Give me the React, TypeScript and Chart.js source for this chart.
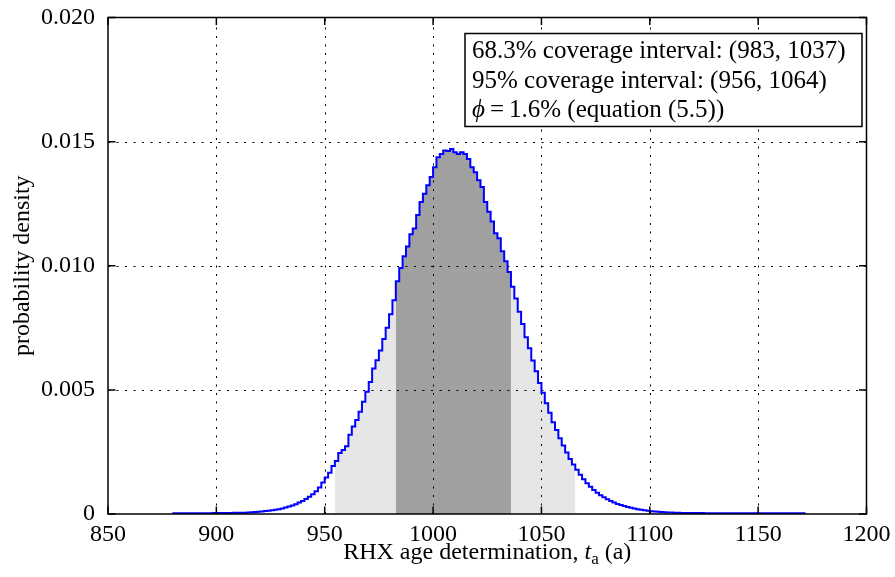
import React, { useEffect, useRef } from 'react';
import { Chart, registerables } from 'chart.js';

Chart.register(...registerables);

// ---- data ----
const xTicks = [850, 900, 950, 1000, 1050, 1100, 1150, 1200];
const yTicks = [0, 0.005, 0.01, 0.015, 0.02];
const yTickLabels = ['0', '0.005', '0.010', '0.015', '0.020'];

// histogram bins: left edge of first bin and bin width (age, a)
const firstBinEdge = 879.6875;
const binWidth = 1.5625;

// probability density per bin (left tail, body, right tail)
const densityLeftTail = [
  0.00003, 0.00003, 0.00003, 0.00003, 0.00003, 0.00003, 0.00003, 0.00003, 0.00003, 0.00003, 0.00003, 0.00003,
  0.00004, 0.00004, 0.00004, 0.00004, 0.00004, 0.00004,
  0.00005, 0.00005, 0.00005, 0.00005,
  0.00006, 0.00007, 0.00008, 0.00009, 0.0001, 0.00012, 0.00013, 0.00015, 0.00017, 0.00019,
  0.00022, 0.00026, 0.0003, 0.00034, 0.00039, 0.00046, 0.00052, 0.0006, 0.00069, 0.0008, 0.00092,
];
const densityBody = [
  0.00107, 0.00127, 0.00147, 0.00166, 0.00193, 0.00213, 0.00246, 0.00258, 0.00273, 0.00319,
  0.00352, 0.00379, 0.00412, 0.00452, 0.00492, 0.00532, 0.00586, 0.00619, 0.00659, 0.00705,
  0.0075, 0.00805, 0.00861, 0.00938, 0.00991, 0.01038, 0.01078, 0.01127, 0.0115, 0.01204,
  0.01257, 0.0129, 0.01324, 0.01357, 0.01397, 0.01437, 0.0145, 0.01464, 0.01462, 0.0147,
  0.01457, 0.0145, 0.01457, 0.0145, 0.0143, 0.01397, 0.01377, 0.01344, 0.01317, 0.01257,
  0.01218, 0.01178, 0.01131, 0.01111, 0.01058, 0.01018,
];
const densityRightTail = [
  0.00975, 0.00915, 0.00868, 0.00815, 0.00765, 0.00712, 0.00668, 0.00618, 0.00575, 0.00528,
  0.00488, 0.00446, 0.00408, 0.0037, 0.00338, 0.00305, 0.00276, 0.00248, 0.00222, 0.00199,
  0.00178, 0.00158, 0.0014, 0.00124, 0.0011, 0.00097, 0.00086, 0.00076, 0.00067, 0.00059,
  0.00052, 0.00046, 0.0004, 0.00036, 0.00032, 0.00028, 0.00025, 0.00022, 0.00019, 0.00017,
  0.00015, 0.00013, 0.00011, 0.0001, 0.00009, 0.00008, 0.00007, 0.00006, 0.00006, 0.00005,
  0.00005,
  0.00004, 0.00004, 0.00004, 0.00004, 0.00004, 0.00004, 0.00004,
  0.00003, 0.00003, 0.00003, 0.00003, 0.00003, 0.00003, 0.00003, 0.00003, 0.00003, 0.00003,
  0.00003, 0.00003, 0.00003, 0.00003, 0.00003, 0.00003, 0.00003, 0.00003, 0.00003, 0.00003,
  0.00003, 0.00003, 0.00003, 0.00003, 0.00003, 0.00003, 0.00003, 0.00003, 0.00003, 0.00003,
];
const density = [...densityLeftTail, ...densityBody, ...densityRightTail];

// shaded coverage regions (bin-aligned, as drawn)
const shade95 = [954.6875, 1065.625];
const shade68 = [982.8125, 1035.9375];

const legendLine1 = '68.3% coverage interval: (983, 1037)';
const legendLine2 = '95% coverage interval: (956, 1064)';
const legendLine3Symbol = '\u03d5';
const legendLine3Rest = '\u2009=\u20091.6% (equation (5.5))';
const yTitle = 'probability density';

const FONT = '"Liberation Serif", "Times New Roman", serif';

function stepPoints(lo?: number, hi?: number) {
  const pts: { x: number; y: number }[] = [];
  for (let i = 0; i < density.length; i++) {
    const x0 = firstBinEdge + i * binWidth;
    const x1 = x0 + binWidth;
    if (lo !== undefined && hi !== undefined && (x0 < lo - 1e-6 || x1 > hi + 1e-6)) continue;
    pts.push({ x: x0, y: density[i] });
  }
  const last = pts[pts.length - 1];
  pts.push({ x: last.x + binWidth, y: last.y });
  return pts;
}

const overlayPlugin = {
  id: 'overlay',
  afterDatasetDraw(chart: any, args: any) {
    if (args.index !== 1) return;
    const { ctx, chartArea: a } = chart;
    const xs = chart.scales.x;
    const ys = chart.scales.y;
    ctx.save();
    ctx.beginPath();
    ctx.rect(a.left, a.top, a.right - a.left, a.bottom - a.top);
    ctx.clip();
    ctx.strokeStyle = '#000';
    ctx.lineWidth = 1;
    ctx.setLineDash([2, 6.5]);
    for (const v of xTicks) {
      const px = Math.round(xs.getPixelForValue(v)) + 0.5;
      if (px <= a.left + 2 || px >= a.right - 2) continue;
      ctx.beginPath();
      ctx.moveTo(px, a.bottom);
      ctx.lineTo(px, a.top);
      ctx.stroke();
    }
    for (const v of yTicks) {
      const py = Math.round(ys.getPixelForValue(v)) + 0.5;
      if (py <= a.top + 2 || py >= a.bottom - 2) continue;
      ctx.beginPath();
      ctx.moveTo(a.left, py);
      ctx.lineTo(a.right, py);
      ctx.stroke();
    }
    ctx.restore();
  },
  afterDraw(chart: any) {
    const { ctx, chartArea: a } = chart;
    const xs = chart.scales.x;
    const ys = chart.scales.y;
    ctx.save();
    // axes box
    ctx.strokeStyle = '#000';
    ctx.lineWidth = 1.5;
    ctx.strokeRect(a.left, a.top, a.right - a.left, a.bottom - a.top);
    // inward ticks
    const tl = 7.5;
    ctx.beginPath();
    for (const v of xTicks) {
      const px = xs.getPixelForValue(v);
      ctx.moveTo(px, a.bottom);
      ctx.lineTo(px, a.bottom - tl);
      ctx.moveTo(px, a.top);
      ctx.lineTo(px, a.top + tl);
    }
    for (const v of yTicks) {
      const py = ys.getPixelForValue(v);
      ctx.moveTo(a.left, py);
      ctx.lineTo(a.left + tl, py);
      ctx.moveTo(a.right, py);
      ctx.lineTo(a.right - tl, py);
    }
    ctx.stroke();

    // legend box
    const bx = 465;
    const by = a.top + 16;
    const bw = a.right - 4.5 - bx;
    const bh = 93;
    ctx.fillStyle = '#fff';
    ctx.fillRect(bx, by, bw, bh);
    ctx.strokeRect(bx, by, bw, bh);
    ctx.fillStyle = '#000';
    ctx.textAlign = 'left';
    ctx.textBaseline = 'alphabetic';
    ctx.font = `25px ${FONT}`;
    ctx.fillText(legendLine1, bx + 7, by + 24.5);
    ctx.fillText(legendLine2, bx + 7, by + 54);
    ctx.font = `italic 25px ${FONT}`;
    ctx.fillText(legendLine3Symbol, bx + 7, by + 83.5);
    const phiW = ctx.measureText(legendLine3Symbol).width;
    ctx.font = `25px ${FONT}`;
    ctx.fillText(legendLine3Rest, bx + 7 + phiW, by + 83.5);

    // x title with italic t and subscript a
    const segs = [
      { t: 'RHX age determination, ', f: `24px ${FONT}`, dy: 0 },
      { t: 't', f: `italic 24px ${FONT}`, dy: 0 },
      { t: 'a', f: `17px ${FONT}`, dy: 5 },
      { t: ' (a)', f: `24px ${FONT}`, dy: 0 },
    ];
    let total = 0;
    for (const s of segs) {
      ctx.font = s.f;
      total += ctx.measureText(s.t).width;
    }
    let cx = (a.left + a.right) / 2 - total / 2;
    const baseY = 559;
    for (const s of segs) {
      ctx.font = s.f;
      ctx.fillText(s.t, cx, baseY + s.dy);
      cx += ctx.measureText(s.t).width;
    }

    // y title
    ctx.save();
    ctx.translate(29, (a.top + a.bottom) / 2);
    ctx.rotate(-Math.PI / 2);
    ctx.textAlign = 'center';
    ctx.font = `24px ${FONT}`;
    ctx.fillText(yTitle, 0, 0);
    ctx.restore();

    ctx.restore();
  },
};

export default function App() {
  const canvasRef = useRef<HTMLCanvasElement | null>(null);

  useEffect(() => {
    document.body.style.margin = '0';
    const canvas = canvasRef.current;
    if (!canvas) return;
    const chart = new Chart(canvas, {
      type: 'line',
      data: {
        datasets: [
          {
            data: stepPoints(),
            stepped: 'before',
            borderColor: '#0000ff',
            borderWidth: 2,
            pointRadius: 0,
            fill: false,
          },
          {
            data: stepPoints(shade68[0], shade68[1]),
            stepped: 'before',
            borderColor: 'rgba(0,0,0,0)',
            borderWidth: 0,
            backgroundColor: '#a0a0a0',
            pointRadius: 0,
            fill: 'origin',
          },
          {
            data: stepPoints(shade95[0], shade95[1]),
            stepped: 'before',
            borderColor: 'rgba(0,0,0,0)',
            borderWidth: 0,
            backgroundColor: '#e6e6e6',
            pointRadius: 0,
            fill: 'origin',
          },
        ],
      } as any,
      options: {
        animation: false,
        responsive: false,
        maintainAspectRatio: false,
        devicePixelRatio: 1,
        layout: { padding: { left: 0, top: 17.5, right: 28.5, bottom: 0 } },
        plugins: {
          legend: { display: false },
          tooltip: { enabled: false },
          title: { display: false },
        },
        scales: {
          x: {
            type: 'linear',
            min: 850,
            max: 1200,
            afterBuildTicks: (s: any) => {
              s.ticks = xTicks.map((v) => ({ value: v }));
            },
            afterFit: (s: any) => {
              s.height = 63;
              s.paddingLeft = 0;
              s.paddingRight = 0;
              s.paddingTop = 0;
              s.paddingBottom = 0;
            },
            ticks: {
              autoSkip: false,
              maxRotation: 0,
              padding: 6,
              color: '#000',
              font: { family: FONT, size: 24 },
              callback: (v: any) => String(v),
            },
            grid: { display: false, drawTicks: false },
            border: { display: false },
          },
          y: {
            type: 'linear',
            min: 0,
            max: 0.02,
            afterBuildTicks: (s: any) => {
              s.ticks = yTicks.map((v) => ({ value: v }));
            },
            afterFit: (s: any) => {
              s.width = 108;
              s.paddingLeft = 0;
              s.paddingRight = 0;
              s.paddingTop = 0;
              s.paddingBottom = 0;
            },
            ticks: {
              padding: 13,
              color: '#000',
              font: { family: FONT, size: 24 },
              callback: (v: any) => {
                const i = yTicks.findIndex((t) => Math.abs(t - v) < 1e-9);
                return i >= 0 ? yTickLabels[i] : '';
              },
            },
            grid: { display: false, drawTicks: false },
            border: { display: false },
          },
        },
      } as any,
      plugins: [overlayPlugin],
    });
    return () => chart.destroy();
  }, []);

  return (
    <div style={{ position: 'fixed', left: 0, top: 0, width: 895, height: 577, background: '#fff' }}>
      <canvas ref={canvasRef} width={895} height={577} style={{ display: 'block', width: 895, height: 577 }} />
    </div>
  );
}
